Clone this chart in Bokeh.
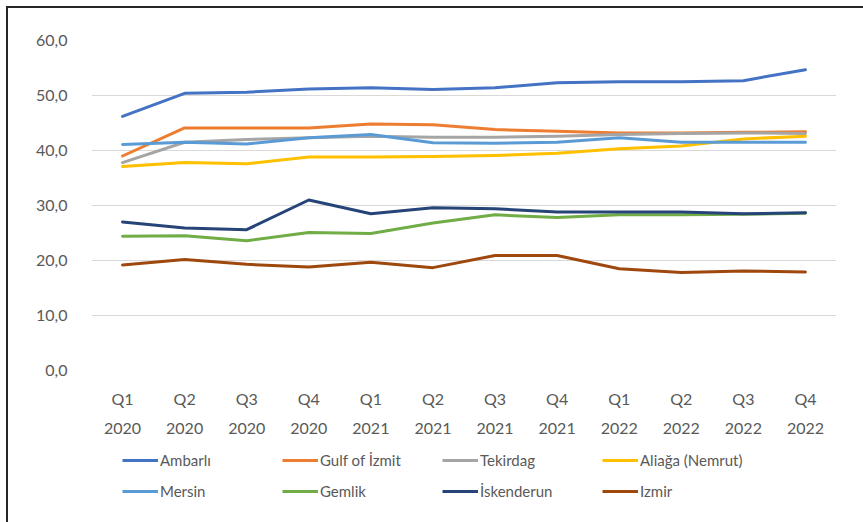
from bokeh.plotting import figure
from bokeh.models import Legend, LegendItem, FixedTicker, Div, Range1d
from bokeh.layouts import column
from bokeh.embed import file_html
from bokeh.resources import INLINE

quarters = ["Q1\n2020", "Q2\n2020", "Q3\n2020", "Q4\n2020",
            "Q1\n2021", "Q2\n2021", "Q3\n2021", "Q4\n2021",
            "Q1\n2022", "Q2\n2022", "Q3\n2022", "Q4\n2022"]

ambarli = [46.2, 50.4, 50.6, 51.2, 51.4, 51.1, 51.4, 52.3, 52.5, 52.5, 52.7, 54.7]
gulf_izmit = [39.0, 44.1, 44.1, 44.1, 44.8, 44.7, 43.8, 43.5, 43.2, 43.2, 43.3, 43.4]
tekirdag = [37.8, 41.5, 42.0, 42.3, 42.6, 42.4, 42.4, 42.6, 42.9, 43.1, 43.2, 43.1]
aliaga = [37.1, 37.8, 37.6, 38.8, 38.8, 38.9, 39.1, 39.5, 40.3, 40.8, 42.1, 42.6]
mersin = [41.1, 41.5, 41.2, 42.3, 42.9, 41.4, 41.3, 41.5, 42.3, 41.5, 41.5, 41.5]
gemlik = [24.4, 24.5, 23.6, 25.1, 24.9, 26.8, 28.3, 27.8, 28.3, 28.3, 28.4, 28.6]
iskenderun = [27.0, 25.9, 25.6, 31.0, 28.5, 29.6, 29.4, 28.8, 28.8, 28.8, 28.5, 28.7]
izmir = [19.2, 20.2, 19.3, 18.8, 19.7, 18.7, 20.9, 20.9, 18.5, 17.8, 18.1, 17.9]

series_names = ["Ambarlı", "Gulf of İzmit", "Tekirdag", "Aliağa (Nemrut)",
                "Mersin", "Gemlik", "İskenderun", "Izmir"]
series_values = [ambarli, gulf_izmit, tekirdag, aliaga, mersin, gemlik, iskenderun, izmir]
series_colors = ["#4472C4", "#ED7D31", "#A5A5A5", "#FFC000",
                 "#5B9BD5", "#70AD47", "#264478", "#9E480E"]

y_ticks = [0, 10, 20, 30, 40, 50, 60]
y_tick_labels = ["0,0", "10,0", "20,0", "30,0", "40,0", "50,0", "60,0"]

FONT = "Lato"
GREY = "#595959"

# main chart: canvas covers y 0..440
p = figure(x_range=quarters, y_range=(0, 60),
           frame_width=745, frame_height=330,
           min_border_left=91, min_border_right=27,
           min_border_top=40, min_border_bottom=70,
           output_backend="svg", toolbar_location=None)
p.outline_line_color = None
p.background_fill_color = "white"

for name, vals, col in zip(series_names, series_values, series_colors):
    p.line(quarters, vals, line_color=col, line_width=3,
           line_join="round", line_cap="round")

p.xgrid.grid_line_color = None
p.ygrid.grid_line_color = "#D9D9D9"
p.ygrid.grid_line_width = 1

p.yaxis.ticker = FixedTicker(ticks=y_ticks)
p.yaxis.major_label_overrides = dict(zip(y_ticks, y_tick_labels))
for ax in (p.xaxis, p.yaxis):
    ax.axis_line_color = None
    ax.major_tick_line_color = None
    ax.minor_tick_line_color = None
    ax.major_label_text_font = FONT
    ax.major_label_text_font_size = "16px"
    ax.major_label_text_color = GREY
p.yaxis.major_label_standoff = 18
p.xaxis.major_label_standoff = 12
p.xaxis.major_label_text_line_height = 1.55

# legend strip: canvas covers y 440..522 (its renderers are hidden proxies of the series)
lg = figure(width=863, height=82, x_range=Range1d(0, 1), y_range=Range1d(0, 1),
            min_border=0, output_backend="svg", toolbar_location=None)
lg.axis.visible = False
lg.grid.visible = False
lg.outline_line_color = None
positions = list(range(len(quarters)))
items = []
for name, vals, col in zip(series_names, series_values, series_colors):
    r = lg.line(positions, vals, line_color=col, line_width=3, visible=False)
    items.append(LegendItem(label=name, renderers=[r]))

legend = Legend(items=items, orientation="horizontal", ncols=4,
                location=(31, 21), click_policy="none",
                glyph_width=36, glyph_height=20, label_height=20,
                label_width=111, label_standoff=2, spacing=11,
                padding=0, margin=0,
                label_text_font=FONT, label_text_font_size="15px",
                label_text_color=GREY,
                background_fill_alpha=0, border_line_color=None)
lg.add_layout(legend, "center")

frame_box = Div(width=1, height=1, text=(
    '<div style="position:fixed; left:6px; top:6px; width:857px; height:516px; '
    'border-left:2px solid #262626; border-top:2px solid #262626; '
    'pointer-events:none;"></div>'))

layout = column(p, lg, frame_box, spacing=0)
open("out.html", "w").write(file_html(layout, INLINE))
